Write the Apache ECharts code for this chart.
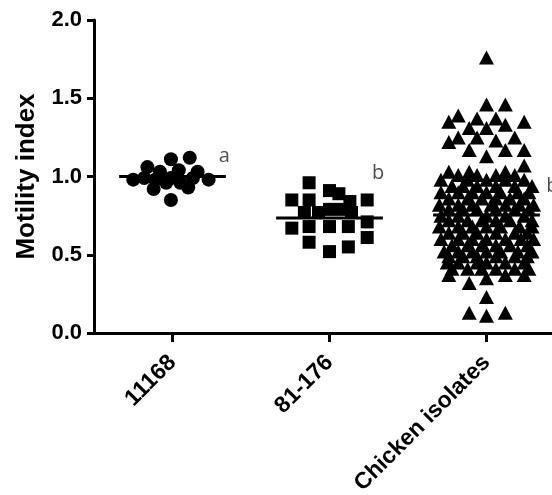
<!DOCTYPE html>
<html><head><meta charset="utf-8">
<script src="https://cdn.jsdelivr.net/npm/echarts/dist/echarts.min.js"></script>
<style>html,body{margin:0;padding:0;background:#fff}#c{width:552px;height:495px}</style>
</head><body><div id="c"></div>
<script>
const categories = ['11168', '81-176', 'Chicken isolates'];
const yAxisTitle = 'Motility index';
// each point: [motility index, horizontal scatter offset in category widths]
const strain11168 = [
  [0.98,-0.25],[1.06,-0.16],[0.99,-0.18],[0.92,-0.12],[1.11,-0.01],[0.85,-0.01],
  [0.99,-0.01],[1.04,0.04],[1.12,0.11],[0.93,0.10],[1.03,0.16],[0.98,0.23],
  [1.03,-0.08],[0.96,0.05],[0.99,0.13],[0.98,-0.11],[0.96,-0.04]
];
const strain81176 = [
  [0.96,-0.13],[0.85,-0.24],[0.85,-0.13],[0.91,0],[0.89,0.06],[0.84,0.13],[0.85,0.24],
  [0.67,-0.24],[0.68,-0.13],[0.58,-0.13],[0.68,0],[0.52,0],[0.68,0.12],[0.55,0.12],
  [0.71,0.24],[0.61,0.24],[0.77,-0.07],[0.79,0.08],[0.77,-0.16],[0.79,0],[0.77,0.14]
];
const chickenIsolates = [
  [1.76,0],
  [1.46,0],[1.46,0.12],
  [1.39,-0.18],
  [1.35,-0.24],[1.35,0.24],
  [1.37,-0.06],[1.37,0.06],
  [1.31,-0.11],[1.31,0],
  [1.33,0.12],
  [1.25,-0.18],[1.25,-0.06],[1.25,0.18],
  [1.22,-0.24],
  [1.23,0.06],
  [1.17,-0.11],[1.17,0.12],[1.17,0.24],
  [1.13,0],
  [1.07,0.24],
  [1.03,-0.24],[1.03,-0.11],[1.03,0.12],
  [1.01,-0.18],[1.01,-0.06],[1.01,0.06],[1.01,0.18],
  [0.98,-0.29],[0.98,-0.12],[0.98,0],[0.98,0.12],[0.98,0.24],
  [0.94,-0.22],[0.94,-0.15],[0.94,-0.06],[0.94,0.06],[0.94,0.18],[0.94,0.29],
  [0.90,-0.29],[0.90,-0.18],[0.90,-0.09],[0.90,0],[0.90,0.09],[0.90,0.20],[0.90,0.27],
  [0.86,-0.24],[0.86,-0.12],[0.86,-0.03],[0.86,0.06],[0.86,0.15],[0.86,0.24],
  [0.82,-0.30],[0.82,-0.18],[0.82,-0.09],[0.82,0.03],[0.82,0.12],[0.82,0.21],[0.82,0.30],
  [0.79,-0.24],[0.79,-0.15],[0.79,-0.06],[0.79,0.06],[0.79,0.18],[0.79,0.27],
  [0.75,-0.29],[0.75,-0.18],[0.75,0],[0.75,0.12],[0.75,0.24],
  [0.72,-0.24],[0.72,-0.12],[0.72,-0.03],[0.72,0.06],[0.72,0.15],[0.72,0.29],
  [0.68,-0.30],[0.68,-0.18],[0.68,-0.09],[0.68,0],[0.68,0.09],[0.68,0.21],[0.68,0.29],
  [0.64,-0.24],[0.64,-0.15],[0.64,-0.06],[0.64,0.06],[0.64,0.18],[0.64,0.26],
  [0.60,-0.29],[0.60,-0.18],[0.60,-0.09],[0.60,0],[0.60,0.12],[0.60,0.22],[0.60,0.30],
  [0.56,-0.22],[0.56,-0.12],[0.56,-0.03],[0.56,0.06],[0.56,0.15],[0.56,0.26],
  [0.52,-0.27],[0.52,-0.18],[0.52,-0.09],[0.52,0],[0.52,0.09],[0.52,0.20],[0.52,0.29],
  [0.49,-0.24],[0.49,-0.15],[0.49,-0.06],[0.49,0.06],[0.49,0.18],[0.49,0.26],
  [0.45,-0.25],[0.45,-0.18],[0.45,-0.06],[0.45,0],[0.45,0.12],[0.45,0.24],
  [0.41,-0.22],[0.41,-0.12],[0.41,-0.03],[0.41,0.06],[0.41,0.18],[0.41,0.27],
  [0.37,-0.24],[0.37,0.12],[0.37,0.24],
  [0.35,0],[0.32,-0.11],[0.23,0],[0.13,-0.11],[0.13,0.12],[0.11,0]
];
const centerLines = [1.00, 0.735, 0.754];
const groupLetters = ['a', 'b', 'b'];
const letterValues = [1.13, 1.02, 0.94];
const letterOffsets = [0.33, 0.31, 0.42];

const groups = [strain11168, strain81176, chickenIsolates];
const shapes = ['circle', 'rect', 'triangle'];
const sizes = [14, 13, [15, 14]];
const lineHalf = 0.34;
const FONT = 'Liberation Sans, Arial, sans-serif';

const series = [];
groups.forEach((pts, i) => {
  series.push({
    type: 'scatter', xAxisIndex: 1, symbol: shapes[i], symbolSize: sizes[i],
    itemStyle: { color: '#000', opacity: 1 }, silent: true,
    data: pts.map(p => [i + p[1], p[0]])
  });
});
centerLines.forEach((m, i) => {
  series.push({
    type: 'line', xAxisIndex: 1, symbol: 'none', silent: true, z: 3,
    lineStyle: { color: '#000', width: 3 },
    data: [[i - lineHalf, m], [i + lineHalf, m]]
  });
});
series.push({
  type: 'scatter', xAxisIndex: 1, symbolSize: 1, silent: true,
  itemStyle: { color: 'rgba(0,0,0,0)' },
  label: { show: true, position: 'inside', formatter: p => p.name,
           fontFamily: 'Open Sans, sans-serif', fontSize: 20, color: '#222' },
  data: groupLetters.map((t, i) => ({ name: t, value: [i + letterOffsets[i], letterValues[i]] }))
});

const chart = echarts.init(document.getElementById('c'), null, { renderer: 'canvas' });
chart.setOption({
  animation: false,
  backgroundColor: '#fff',
  grid: { left: 94, top: 20, bottom: 162, right: -13, containLabel: false, outerBoundsMode: 'none' },
  xAxis: [
    {
      type: 'category', data: categories, boundaryGap: true,
      axisLine: { show: true, onZero: false, lineStyle: { color: '#000', width: 3 } },
      axisTick: { show: true, alignWithLabel: true, length: 9, lineStyle: { color: '#000', width: 3 } },
      axisLabel: { rotate: 45, interval: 0, margin: 26, fontSize: 23, fontWeight: 'bold', color: '#000', fontFamily: FONT },
      splitLine: { show: false }
    },
    { type: 'value', min: -0.5, max: 2.5, show: false }
  ],
  yAxis: {
    type: 'value', min: 0, max: 2, interval: 0.5,
    axisLine: { show: true, onZero: false, lineStyle: { color: '#000', width: 3 } },
    axisTick: { show: true, length: 7, lineStyle: { color: '#000', width: 3 } },
    axisLabel: { formatter: v => v.toFixed(1), fontSize: 22, fontWeight: 'bold', color: '#000', fontFamily: FONT, margin: 12 },
    splitLine: { show: false },
    name: yAxisTitle, nameLocation: 'middle', nameGap: 54,
    nameTextStyle: { fontSize: 26, fontWeight: 'bold', color: '#000', fontFamily: FONT }
  },
  series: series
});
</script></body></html>
